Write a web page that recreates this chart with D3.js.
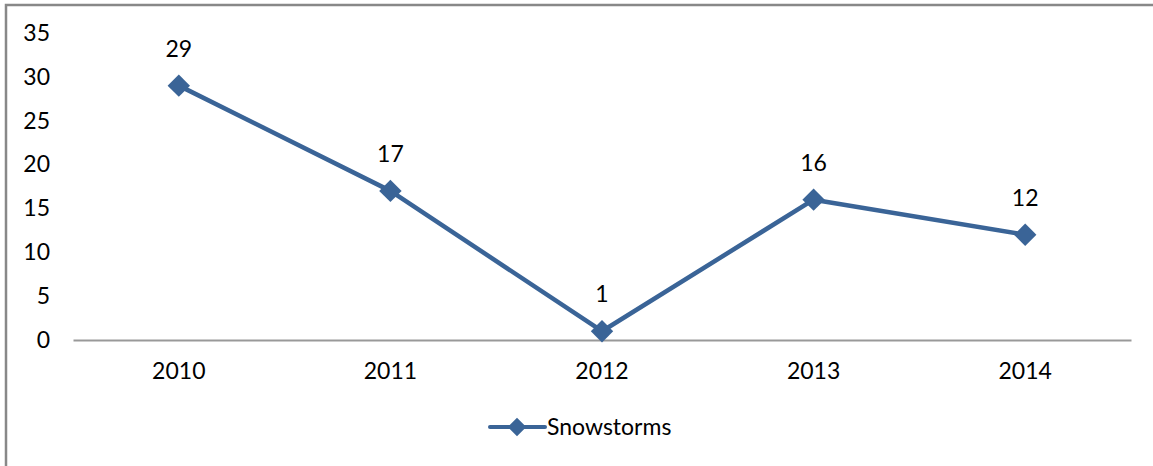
<!DOCTYPE html>
<html><head><meta charset="utf-8">
<script src="https://cdn.jsdelivr.net/npm/d3@7"></script>
<style>body{margin:0;background:#fff}text{font-family:Lato,"Open Sans",sans-serif;fill:#000}</style>
</head><body><svg id="c" width="1153" height="466"></svg>
<script>
const categories = ["2010","2011","2012","2013","2014"];
const snowstorms = [29,17,1,16,12];
const yTicks = [0,5,10,15,20,25,30,35];
const seriesName = "Snowstorms";

const svg = d3.select("#c");
const color = "#3A6497";
const fs = 23;
// outer border
svg.append("path").attr("d","M6,466V5H1153").attr("fill","none").attr("stroke","#888").attr("stroke-width",2.5);

const x = d3.scaleBand().domain(categories).range([73,1131]);
const y = d3.scaleLinear().domain([0,35]).range([340,33]);

const yAxis = svg.append("g").attr("transform","translate(58,0)")
  .call(d3.axisLeft(y).tickValues(yTicks).tickSize(0).tickPadding(8));
yAxis.select(".domain").remove();
yAxis.selectAll("text").attr("font-size",fs).style("font-family","Lato, sans-serif");

const xAxis = svg.append("g").attr("transform","translate(0,340)")
  .call(d3.axisBottom(x).tickSize(0).tickPadding(23));
xAxis.select(".domain").attr("stroke","#999").attr("stroke-width",2);
xAxis.selectAll("text").attr("font-size",fs).style("font-family","Lato, sans-serif");

const cx = d => x(d) + x.bandwidth()/2;
const line = d3.line().x((d,i)=>cx(categories[i])).y(d=>y(d));
svg.append("path").datum(snowstorms).attr("d",line).attr("fill","none")
  .attr("stroke",color).attr("stroke-width",4.5).attr("stroke-linejoin","round");

const diamond = d3.symbol().type(d3.symbolDiamond2).size(320);
svg.selectAll(".m").data(snowstorms).join("path")
  .attr("transform",(d,i)=>`translate(${cx(categories[i])},${y(d)})`)
  .attr("d",diamond).attr("fill",color);

svg.selectAll(".lbl").data(snowstorms).join("text")
  .attr("x",(d,i)=>cx(categories[i])).attr("y",d=>y(d)-29)
  .attr("text-anchor","middle").attr("font-size",fs).text(d=>d);

// legend
const lg = svg.append("g").attr("transform","translate(490,427)");
lg.append("line").attr("x1",0).attr("x2",55).attr("stroke",color).attr("stroke-width",4).attr("stroke-linecap","round");
lg.append("path").attr("transform","translate(27,0)").attr("d",d3.symbol().type(d3.symbolDiamond2).size(220)).attr("fill",color);
lg.append("text").attr("x",57).attr("y",8).attr("font-size",fs).text(seriesName);
</script></body></html>
